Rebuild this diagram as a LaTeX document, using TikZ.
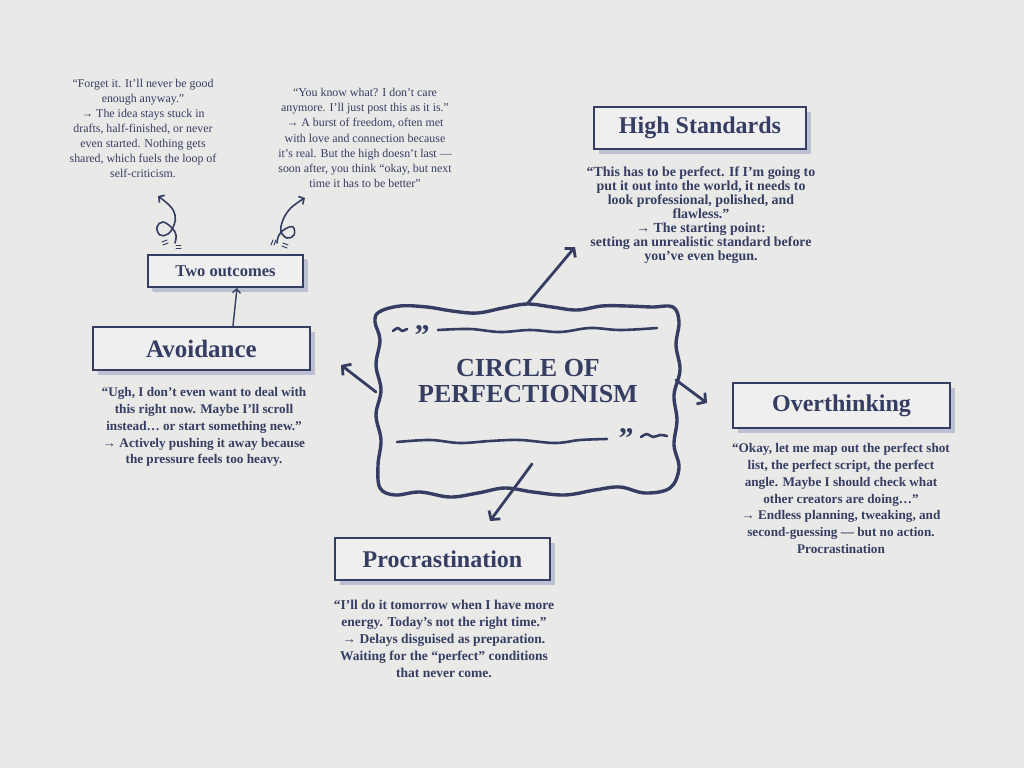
\documentclass[tikz,border=0pt]{standalone}
\usepackage{fontspec}
\setmainfont{Liberation Serif}
\usetikzlibrary{arrows.meta,shadows}
\definecolor{navy}{HTML}{363D62}
\definecolor{bgc}{HTML}{E9E9E7}
\definecolor{boxc}{HTML}{EFEFEF}
\definecolor{shadowc}{HTML}{BCC0D2}
\begin{document}
\begin{tikzpicture}[x=1pt,y=-1pt,
  box/.style={draw=navy, line width=2.6pt, fill=boxc, text=navy, inner sep=0pt,
    font=\bfseries\fontsize{24}{26}\selectfont,
    drop shadow={shadow xshift=5pt, shadow yshift=-5pt, fill=shadowc, opacity=1}},
  smallbox/.style={box, line width=2.1pt, font=\bfseries\fontsize{16.5}{18}\selectfont,
    drop shadow={shadow xshift=4pt, shadow yshift=-4pt, fill=shadowc, opacity=1}},
  bodytext/.style={text=navy, align=center, inner sep=0pt, font=\bfseries\fontsize{13.2}{16.9}\selectfont},
  thintext/.style={text=navy, align=center, inner sep=0pt, font=\fontsize{11.9}{15.1}\selectfont},
  arr/.style={draw=navy, line width=2.8pt, line cap=round, -{Straight Barb[length=6pt,width=14pt,line width=2.8pt]}},
  thinarr/.style={draw=navy, line width=1.4pt, line cap=round, -{Straight Barb[length=4pt,width=8pt,line width=1.4pt]}},
  curly/.style={draw=navy, line width=1.6pt, line cap=round, -{Straight Barb[length=4pt,width=9pt,line width=1.6pt]}},
  wavy/.style={draw=navy, line width=3.4pt, line cap=round, line join=round},
  tick/.style={draw=navy, line width=1pt, line cap=round}]
\fill[bgc] (0,0) rectangle (1024,768);
\useasboundingbox (0,0) rectangle (1024,768);

% central frame
\draw[wavy] plot[smooth cycle, tension=0.6] coordinates {
  (379,312) (400,306) (427,307) (452,311) (477,313) (503,308) (527,304) (552,307) (577,310) (602,306) (627,306) (652,307) (673,307)
  (679,322) (676,345) (680,370) (674,395) (677,420) (674,445) (679,468) (670,488)
  (645,493) (620,487) (595,490) (565,495) (533,492) (505,488) (478,493) (450,497) (420,492) (395,495) (380,488)
  (378,465) (381,440) (376,415) (381,390) (376,365) (380,340) (375,322)};
\draw[wavy, line width=2.6pt] plot[smooth, tension=0.6] coordinates {(393,331) (398,328) (402,331) (407,329)};
\node[text=navy, inner sep=0pt, font=\bfseries\fontsize{30}{30}\selectfont] (q1) at (422,336) {”};
\draw[wavy, line width=2.6pt] plot[smooth, tension=0.6] coordinates {(438,330) (470,329) (500,332) (530,330) (560,332) (590,328) (620,330) (657,328)};
\draw[wavy, line width=2.6pt] plot[smooth, tension=0.6] coordinates {(397,442) (430,440) (460,443) (490,441) (520,440) (555,443) (580,440) (607,439)};
\node[text=navy, inner sep=0pt, font=\bfseries\fontsize{30}{30}\selectfont] (q2) at (626,439) {”};
\draw[wavy, line width=2.6pt] plot[smooth, tension=0.6] coordinates {(641,437) (647,434) (653,437) (660,435) (667,436)};

\node[text=navy, align=center, inner sep=0pt, font=\bfseries\fontsize{26}{25.5}\selectfont] (title) at (528,381) {CIRCLE OF\\PERFECTIONISM};

% boxes
\node[box, minimum width=212pt, minimum height=42pt] (hs) at (700,128) {High Standards};
\node[box, minimum width=217pt, minimum height=43pt, font=\bfseries\fontsize{25}{26}\selectfont] (av) at (201.5,348.5) {Avoidance};
\node[box, minimum width=217pt, minimum height=45pt] (ov) at (841.5,405.5) {Overthinking};
\node[box, minimum width=215pt, minimum height=42pt] (pr) at (442.5,559) {Procrastination};
\node[smallbox, minimum width=155pt, minimum height=32pt] (two) at (225.5,271) {Two outcomes};

% texts
\node[bodytext, font=\bfseries\fontsize{13.9}{14.1}\selectfont] (hsT) at (701,215) {“This has to be perfect. If I’m going to\\put it out into the world, it needs to\\look professional, polished, and\\flawless.”\\→ The starting point:\\setting an unrealistic standard before\\you’ve even begun.};
\node[bodytext] (avT) at (204,427) {“Ugh, I don’t even want to deal with\\this right now. Maybe I’ll scroll\\instead… or start something new.”\\→ Actively pushing it away because\\the pressure feels too heavy.};
\node[bodytext] (ovT) at (841,498.5) {“Okay, let me map out the perfect shot\\list, the perfect script, the perfect\\angle. Maybe I should check what\\other creators are doing…”\\→ Endless planning, tweaking, and\\second-guessing — but no action.\\Procrastination};
\node[bodytext, font=\bfseries\fontsize{13.5}{16.9}\selectfont] (prT) at (444,639) {“I’ll do it tomorrow when I have more\\energy. Today’s not the right time.”\\→ Delays disguised as preparation.\\Waiting for the “perfect” conditions\\that never come.};
\node[thintext] (leftT) at (143,128.5) {“Forget it. It’ll never be good\\enough anyway.”\\→ The idea stays stuck in\\drafts, half-finished, or never\\even started. Nothing gets\\shared, which fuels the loop of\\self-criticism.};
\node[thintext] (midT) at (365,138) {“You know what? I don’t care\\anymore. I’ll just post this as it is.”\\→ A burst of freedom, often met\\with love and connection because\\it’s real. But the high doesn’t last —\\soon after, you think “okay, but next\\time it has to be better”};

% arrows from the centre
\coordinate (s1) at (527,304);  \coordinate (e1) at (575,247);
\coordinate (s2) at (376,392);  \coordinate (e2) at (341,365);
\coordinate (s3) at (676,380);  \coordinate (e3) at (707,403);
\coordinate (s4) at (532,464);  \coordinate (e4) at (490,521);
\draw[arr] (s1) -- (e1);
\draw[arr] (s2) -- (e2);
\draw[arr] (s3) -- (e3);
\draw[arr] (s4) -- (e4);
\draw[thinarr] (av.north -| 233,0) -- (two.south -| 237,0);

% curly arrows
\draw[curly] plot[smooth, tension=0.7] coordinates {(175,243) (176,235) (172,228) (163,222) (157,227) (160,235) (168,234) (174,225) (175,215) (170,206) (158,196)};
\draw[curly] plot[smooth, tension=0.7] coordinates {(277,243) (279,235) (285,229) (293,227) (294,235) (287,238) (281,231) (283,220) (289,210) (297,203) (305,198)};
\draw[tick] (162,242) -- (167,240) (163,245) -- (168,243);
\draw[tick] (176,245) -- (181,245) (176,248) -- (181,248);
\draw[tick] (271,245) -- (273,240) (274,245) -- (276,240);
\draw[tick] (283,243) -- (288,245) (282,246) -- (287,248);
\end{tikzpicture}
\end{document}
